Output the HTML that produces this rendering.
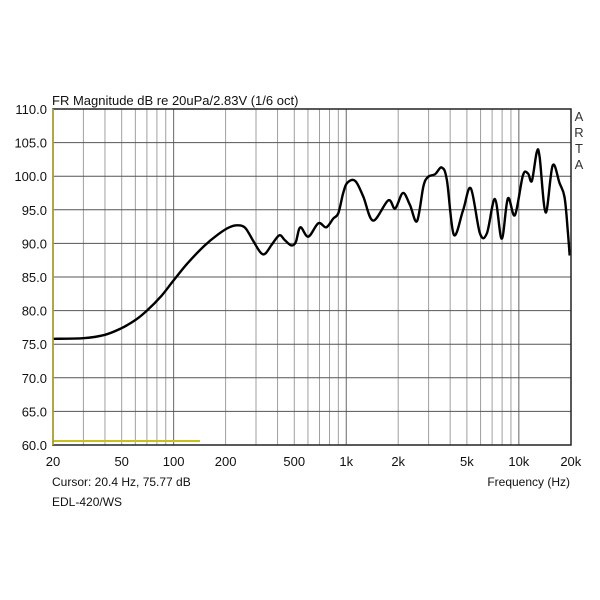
<!DOCTYPE html>
<html><head><meta charset="utf-8"><style>
html,body{margin:0;padding:0;background:#fff;}
svg{display:block;font-family:"Liberation Sans",Arial,sans-serif;}
</style></head><body>
<svg id="s" width="600" height="600" viewBox="0 0 600 600" xmlns="http://www.w3.org/2000/svg">
<rect width="600" height="600" fill="#fff"/>
<g id="grid"></g>
<g id="labels" font-size="13" fill="#111"></g>
<text x="52" y="105" font-size="13" fill="#111">FR Magnitude dB re 20uPa/2.83V (1/6 oct)</text>
<g font-size="13" fill="#333" text-anchor="middle">
<text x="579" y="121">A</text><text x="579" y="137">R</text><text x="579" y="153">T</text><text x="579" y="169">A</text>
</g>
<text x="52" y="486" font-size="12" fill="#111">Cursor: 20.4 Hz, 75.77 dB</text>
<text x="52" y="506" font-size="12" fill="#111">EDL-420/WS</text>
<text x="570" y="486" font-size="12" fill="#111" text-anchor="end">Frequency (Hz)</text>
<line x1="53" y1="441" x2="200" y2="441" stroke="#c8c020" stroke-width="2"/>
<path id="curve" fill="none" stroke="#000" stroke-width="2.4" stroke-linejoin="round"/>
<rect x="53" y="109" width="518" height="336" fill="none" stroke="#222" stroke-width="1.5"/>
<line x1="53" y1="109" x2="53" y2="445" stroke="#b8b030" stroke-width="1.5"/>
</svg>
<script>
var L=53,R=571,T=109,B=445;
function X(f){return L+Math.log10(f/20)*172.6;}
function Y(d){return T+(110-d)*6.72;}
var g=document.getElementById('grid'),lab=document.getElementById('labels'),h='',t='';
for(var dec=10;dec<=10000;dec*=10)for(var k=1;k<10;k++){var f=dec*k;if(f<=20||f>=20000)continue;
var dk=(k==1);h+='<line x1="'+X(f)+'" y1="'+T+'" x2="'+X(f)+'" y2="'+B+'" stroke="'+(dk?'#666':'#a0a0a0')+'" stroke-width="1"/>';}
for(var d=65;d<110;d+=5)h+='<line x1="'+L+'" y1="'+Y(d)+'" x2="'+R+'" y2="'+Y(d)+'" stroke="#555" stroke-width="1"/>';
g.innerHTML=h;
for(var d=60;d<=110;d+=5)t+='<text x="47" y="'+(Y(d)+5)+'" text-anchor="end">'+d.toFixed(1)+'</text>';
var xl=[[20,'20'],[50,'50'],[100,'100'],[200,'200'],[500,'500'],[1000,'1k'],[2000,'2k'],[5000,'5k'],[10000,'10k'],[20000,'20k']];
xl.forEach(function(a){t+='<text x="'+X(a[0])+'" y="466" text-anchor="middle">'+a[1]+'</text>';});
lab.innerHTML=t;
var p=[[20,75.8],[30,75.9],[40,76.4],[50,77.4],[60,78.6],[70,80],[85,82.2],[100,84.5],[120,87],[150,89.6],[180,91.3],[210,92.4],[235,92.7],[260,92.3],[290,90.3],[320,88.6],[340,88.5],[370,89.8],[410,91.2],[440,90.5],[480,89.7],[510,90.2],[542,92.4],[603,91],[690,93],[766,92.4],[841,93.7],[900,94.5],[960,97.5],[1013,99],[1127,99.3],[1254,97],[1430,93.4],[1750,96.4],[1920,95.2],[2130,97.5],[2340,95.7],[2570,93.3],[2800,98.5],[2980,99.9],[3270,100.3],[3580,101.3],[3830,99.4],[4200,91.3],[4750,94.9],[5270,98.2],[5950,91.5],[6530,91.5],[7270,96.6],[7960,90.7],[8640,96.7],[9490,94.2],[10550,100.1],[11300,100.4],[11900,99.3],[12700,103.6],[13200,102.8],[14300,94.6],[15700,101.6],[17200,99],[18400,96.9],[19200,92],[19700,88.2]];
var P=p.map(function(q){return [X(q[0]),Y(q[1])];});
var s='M'+P[0][0].toFixed(1)+' '+P[0][1].toFixed(1);
for(var i=0;i<P.length-1;i++){
 var p0=P[Math.max(i-1,0)],p1=P[i],p2=P[i+1],p3=P[Math.min(i+2,P.length-1)];
 var c1x=p1[0]+(p2[0]-p0[0])/6,c1y=p1[1]+(p2[1]-p0[1])/6;
 var c2x=p2[0]-(p3[0]-p1[0])/6,c2y=p2[1]-(p3[1]-p1[1])/6;
 s+='C'+c1x.toFixed(1)+' '+c1y.toFixed(1)+' '+c2x.toFixed(1)+' '+c2y.toFixed(1)+' '+p2[0].toFixed(1)+' '+p2[1].toFixed(1);
}
document.getElementById('curve').setAttribute('d',s);
</script>
</body></html>
